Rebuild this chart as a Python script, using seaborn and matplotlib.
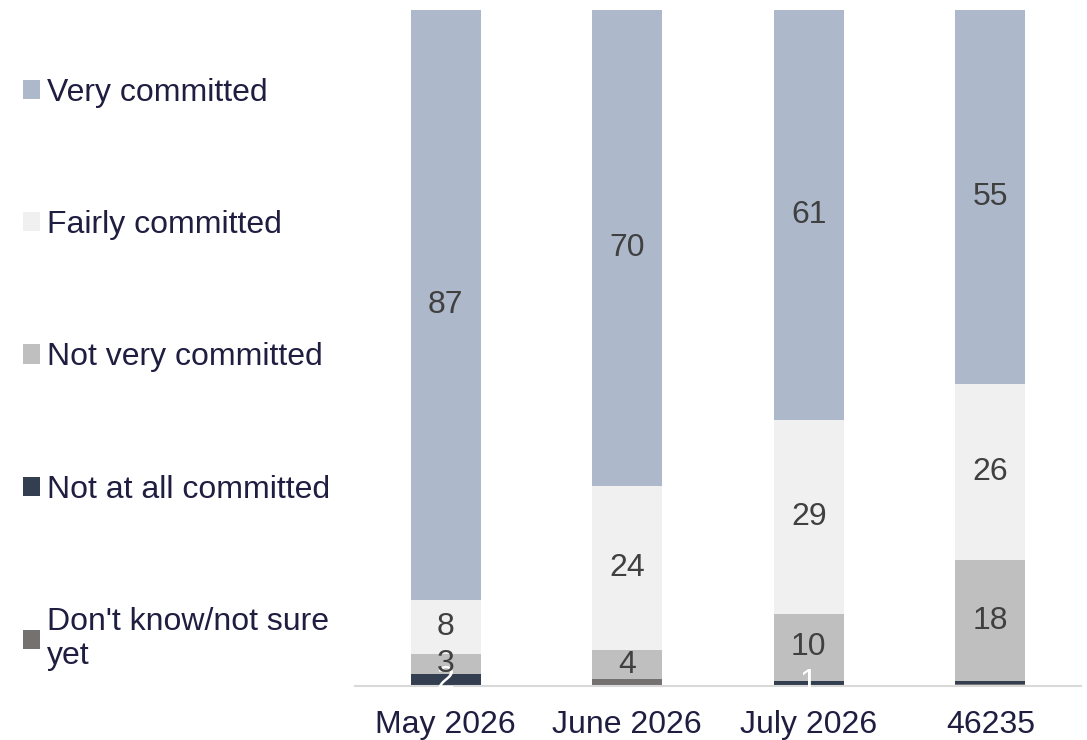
import numpy as np
import pandas as pd
import matplotlib
matplotlib.use('Agg')
import matplotlib.pyplot as plt
import seaborn as sns
from matplotlib.patches import Patch

# Survey waves (x axis)
waves = ['May 2026', 'June 2026', 'July 2026', '46235']

# Segments listed bottom to top of each stack
segments = ["Don't know/not sure\nyet", 'Not at all committed', 'Not very committed',
            'Fairly committed', 'Very committed']
colors = ['#767171', '#333f50', '#bfbfbf', '#f0f0f0', '#adb9cb']

dont_know = [0.0, 1.0, 0.2, 0.3]
not_at_all = [1.7, 0.0, 0.6, 0.4]
not_very = [3.0, 4.3, 9.9, 17.9]
fairly = [8.0, 24.3, 28.6, 26.0]
very = [87.3, 70.4, 60.7, 55.4]

values = [dont_know, not_at_all, not_very, fairly, very]
# the reference leaves the "don't know" segments unlabelled
label_colors = [None, 'white', '#404040', '#404040', '#404040']

sns.set_style('white')
plt.rcParams['font.family'] = ['Liberation Sans', 'DejaVu Sans']

fig = plt.figure(figsize=(10.87, 7.40), dpi=100)
ax = fig.add_axes([0.3266, 0.073, 0.668, 0.9135])

df = pd.DataFrame({name: vals for name, vals in zip(segments, values)}, index=waves)
cum = df.cumsum(axis=1)

# draw cumulative totals from the top segment down so each one overlays the last
for i in range(len(segments) - 1, -1, -1):
    d = pd.DataFrame({'wave': waves, 'total': cum.iloc[:, i].values})
    sns.barplot(data=d, x='wave', y='total', color=colors[i], width=0.386,
                saturation=1, ax=ax, linewidth=0)

# value labels
for i, name in enumerate(segments):
    if label_colors[i] is None:
        continue
    for j, w in enumerate(waves):
        v = df.loc[w, name]
        if v < 0.5:
            continue
        mid = cum.loc[w, name] - v / 2
        ax.text(j, mid, f'{v:.0f}', ha='center', va='center', fontsize=23,
                color=label_colors[i])

ax.set_xlim(-0.5, 3.5)
ax.set_ylim(0, 100)
ax.set_xlabel('')
ax.set_ylabel('')
ax.set_yticks([])
for s in ['top', 'right', 'left']:
    ax.spines[s].set_visible(False)
ax.spines['bottom'].set_color('#d9d9d9')
ax.spines['bottom'].set_linewidth(1.5)
ax.tick_params(axis='x', length=0, labelsize=23, labelcolor='#1f1d40', pad=17)

handles = [Patch(facecolor=colors[i], edgecolor='none') for i in range(len(segments) - 1, -1, -1)]
labels = [segments[i] for i in range(len(segments) - 1, -1, -1)]
fig.legend(handles, labels, loc='upper left', bbox_to_anchor=(0.009, 0.912),
           frameon=False, fontsize=23, labelcolor='#1f1d40', labelspacing=3.2,
           handlelength=0.55, handleheight=0.55, handletextpad=0.22, borderaxespad=0)

fig.savefig('out.png', dpi=100)
